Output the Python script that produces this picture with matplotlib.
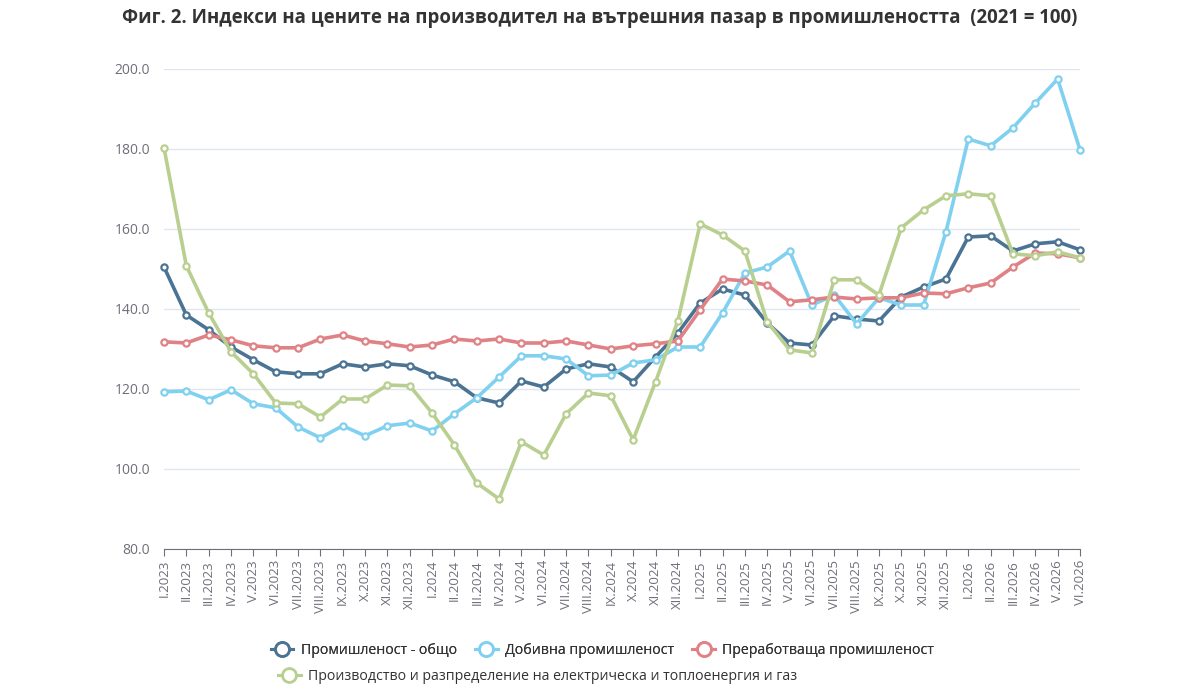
import matplotlib
matplotlib.use('Agg')
import matplotlib.pyplot as plt
from matplotlib.lines import Line2D
from matplotlib.ticker import FormatStrFormatter

plt.rcParams['font.family'] = ['Open Sans', 'DejaVu Sans']

roman = ['I', 'II', 'III', 'IV', 'V', 'VI', 'VII', 'VIII', 'IX', 'X', 'XI', 'XII']
months = [f'{r}.{y}' for y in (2023, 2024, 2025, 2026) for r in roman][:42]

total = [150.5, 138.5, 134.8, 130.5, 127.3, 124.3, 123.8, 123.8, 126.3, 125.5, 126.3, 125.8,
         123.5, 121.8, 117.8, 116.5, 122.0, 120.5, 125.0, 126.3, 125.5, 121.8, 128.0, 134.0,
         141.5, 145.0, 143.5, 136.5, 131.5, 131.0, 138.3, 137.5, 137.0, 143.0, 145.5, 147.5,
         158.0, 158.3, 154.5, 156.3, 156.8, 154.8]
mining = [119.3, 119.5, 117.3, 119.8, 116.3, 115.3, 110.5, 107.8, 110.8, 108.3, 110.8, 111.5,
          109.5, 113.8, 117.8, 123.0, 128.3, 128.3, 127.5, 123.3, 123.5, 126.5, 127.3, 130.5,
          130.5, 139.0, 149.0, 150.5, 154.5, 141.0, 143.5, 136.3, 142.8, 141.0, 141.0, 159.3,
          182.5, 180.8, 185.3, 191.5, 197.5, 179.8]
manufacturing = [131.8, 131.5, 133.5, 132.3, 130.8, 130.3, 130.3, 132.5, 133.5, 132.0, 131.3, 130.5,
                 131.0, 132.5, 132.0, 132.5, 131.5, 131.5, 132.0, 131.0, 130.0, 130.8, 131.3, 132.0,
                 139.8, 147.5, 147.0, 146.0, 141.8, 142.3, 143.0, 142.5, 142.8, 142.8, 144.0, 143.8,
                 145.3, 146.5, 150.5, 154.0, 153.8, 152.8]
energy = [180.3, 150.8, 139.0, 129.3, 123.8, 116.5, 116.3, 113.0, 117.5, 117.5, 121.0, 120.8,
          114.0, 106.0, 96.5, 92.5, 106.8, 103.5, 113.8, 119.0, 118.3, 107.3, 121.8, 137.0,
          161.3, 158.5, 154.5, 136.8, 129.8, 129.0, 147.3, 147.3, 143.5, 160.3, 164.8, 168.3,
          168.8, 168.3, 153.8, 153.3, 154.3, 152.8]

series = [
    ('Промишленост - общо', total, '#4b7393'),
    ('Добивна промишленост', mining, '#80d0f0'),
    ('Преработваща промишленост', manufacturing, '#e08285'),
    ('Производство и разпределение на електрическа и топлоенергия и газ', energy, '#b9cf90'),
]

fig = plt.figure(figsize=(12, 6.92), dpi=100)
ax = fig.add_axes([164 / 1200, 1 - 549 / 692, (1080 - 164) / 1200, (549 - 69) / 692])

x = list(range(len(months)))
handles = []
for name, vals, color in series:
    ax.plot(x, vals, color=color, lw=2.6, marker='o', ms=4.5, mfc='white',
            mec=color, mew=1.6, label=name, zorder=3, clip_on=False)
    # bigger marker for the legend, like the original
    handles.append(Line2D([], [], color=color, lw=2.2, marker='o', ms=10,
                          mfc='white', mec=color, mew=2.0))

ax.set_xlim(0, len(months) - 1)
ax.set_ylim(80, 200)
ax.set_yticks(range(80, 201, 20))
ax.yaxis.set_major_formatter(FormatStrFormatter('%.1f'))
ax.set_xticks(x)
ax.set_xticklabels(months, rotation=90, fontsize=9.5, color='#6e7079')
ax.tick_params(axis='y', length=0, labelsize=10, labelcolor='#6e7079', pad=10)
ax.tick_params(axis='x', length=5, color='#6e7079', pad=3)
ax.grid(axis='y', color='#e0e6f1', lw=1)
ax.set_axisbelow(True)
for s in ('left', 'right', 'top'):
    ax.spines[s].set_visible(False)
ax.spines['bottom'].set_color('#6e7079')

fig.text(0.5, 1 - 18 / 692, 'Фиг. 2. Индекси на цените на производител на вътрешния пазар в промишлеността  (2021 = 100)',
         ha='center', va='center', fontsize=13.4, fontweight='bold', color='#333333')

leg_kw = dict(frameon=False, fontsize=10.2, handlelength=1.6, handletextpad=0.5,
              columnspacing=1.3, labelcolor='#333333')
leg1 = fig.legend(handles[:3], [s[0] for s in series[:3]], loc='center',
                  bbox_to_anchor=(0.502, 1 - 650 / 692), ncol=3, **leg_kw)
fig.legend(handles[3:], [series[3][0]], loc='center',
           bbox_to_anchor=(0.448, 1 - 676 / 692), ncol=1, **leg_kw)
fig.add_artist(leg1)

fig.savefig('out.png', dpi=100, facecolor='white')
